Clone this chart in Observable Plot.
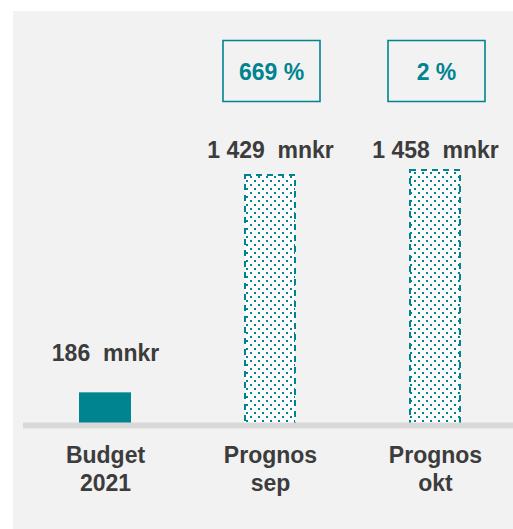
<!DOCTYPE html>
<html><head><meta charset="utf-8">
<script src="https://cdn.jsdelivr.net/npm/d3@7"></script>
<script src="https://cdn.jsdelivr.net/npm/@observablehq/plot@0.6"></script>
<style>
html,body{margin:0;padding:0;background:#fff;}
#wrap{position:absolute;left:13px;top:11px;width:500px;height:518px;background:#f2f2f2;}
</style></head><body><div id="wrap"></div>
<script>
const categories = ["Budget\n2021", "Prognos\nsep", "Prognos\nokt"];
const values = [186, 1429, 1458];
const valueLabels = ["186  mnkr", "1 429  mnkr", "1 458  mnkr"];
const changeLabels = ["", "669 %", "2 %"];
const barStyles = ["solid", "dotted", "dotted"];

const data = categories.map((c, i) => ({cat: c, value: values[i], label: valueLabels[i], change: changeLabels[i], style: barStyles[i]}));
const teal = "#008490", ink = "#3c3c3c";
const font = "'Liberation Sans', Arial, sans-serif";
const boxSymbol = {draw(ctx) { ctx.rect(-48.5, -30.5, 97, 61); }};
const solid = data.filter(d => d.style === "solid");
const dotted = data.filter(d => d.style === "dotted");
const txt = {fontSize: 23, fontWeight: "bold", fontFamily: font};

const chart = Plot.plot({
  width: 500, height: 518,
  marginTop: 0, marginBottom: 0, marginLeft: 10, marginRight: 0,
  style: {background: "transparent", fontFamily: font, overflow: "visible"},
  x: {domain: categories, range: [9, 504], paddingInner: 0.685, paddingOuter: 0.3425, axis: null},
  y: {domain: [0, 1458], range: [414, 158], axis: null},
  marks: [
    Plot.barY(solid, {x: "cat", y: "value", fill: teal}),
    Plot.barY(dotted, {x: "cat", y: "value", fill: "url(#dots)", stroke: teal, strokeWidth: 2, strokeDasharray: "6,5", inset: 1}),
    Plot.ruleY([0], {stroke: "#d9d9d9", strokeWidth: 6}),
    Plot.text(solid, {x: "cat", y: "value", text: "label", lineAnchor: "bottom", dy: -32, fill: ink, ...txt}),
    Plot.text(dotted, {x: "cat", text: "label", frameAnchor: "top", lineAnchor: "bottom", dy: 146, fill: ink, ...txt}),
    Plot.text(data, {x: "cat", text: "cat", frameAnchor: "top", lineAnchor: "top", dy: 432, lineHeight: 1.22, fill: ink, ...txt}),
    Plot.dot(data.filter(d => d.change), {x: "cat", frameAnchor: "top", dy: 59.5, dx: 1, symbol: boxSymbol, stroke: teal, strokeWidth: 1.6, fill: "none"}),
    Plot.text(data.filter(d => d.change), {x: "cat", text: "change", frameAnchor: "top", lineAnchor: "bottom", dy: 68.5, dx: 1, fill: teal, ...txt})
  ]
});

const NS = "http://www.w3.org/2000/svg";
const defs = document.createElementNS(NS, "defs");
const pat = document.createElementNS(NS, "pattern");
pat.setAttribute("id", "dots");
pat.setAttribute("patternUnits", "userSpaceOnUse");
pat.setAttribute("width", 8);
pat.setAttribute("height", 8);
[[0, 0, 8, 8, "#ffffff"], [1, 1, 2, 2, teal], [5, 5, 2, 2, teal]].forEach(([x, y, w, h, f]) => {
  const r = document.createElementNS(NS, "rect");
  r.setAttribute("x", x); r.setAttribute("y", y);
  r.setAttribute("width", w); r.setAttribute("height", h);
  r.setAttribute("fill", f);
  pat.appendChild(r);
});
defs.appendChild(pat);
chart.insertBefore(defs, chart.firstChild);
document.getElementById("wrap").appendChild(chart);
</script></body></html>
